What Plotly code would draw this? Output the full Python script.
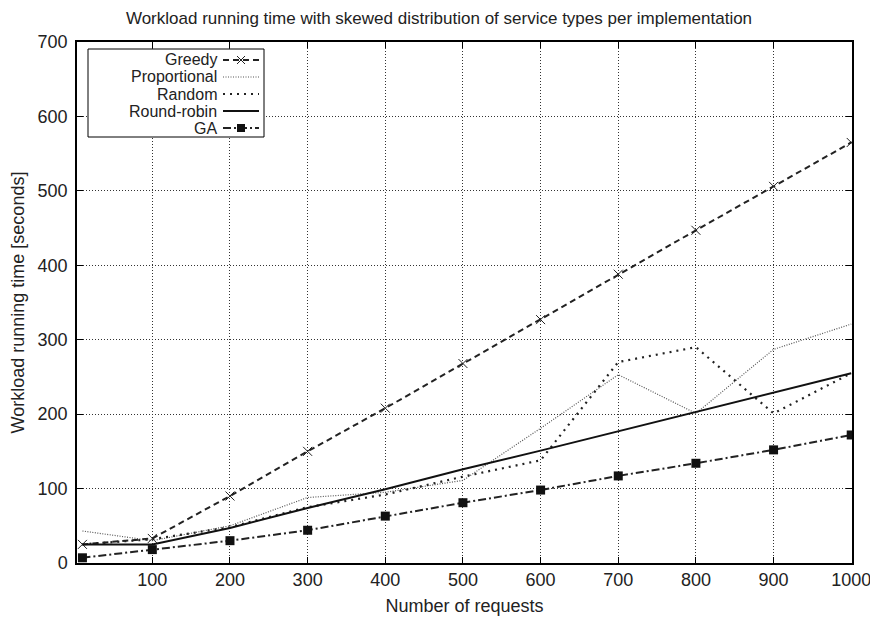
import plotly.graph_objects as go

# number of requests
requests = [10, 100, 200, 300, 400, 500, 600, 700, 800, 900, 1000]

# workload running time [seconds] per implementation
greedy = [25, 33, 90, 150, 208, 268, 327, 388, 447, 506, 565]
proportional = [43, 30, 50, 88, 95, 111, 181, 253, 201, 287, 321]
random_ = [25, 32, 48, 75, 92, 116, 138, 270, 290, 201, 255]
round_robin = [25, 25, 47, 74, 99, 126, 151, 177, 203, 229, 255]
ga = [7, 18, 30, 44, 63, 81, 98, 117, 134, 152, 172]

xticks = [100, 200, 300, 400, 500, 600, 700, 800, 900, 1000]
yticks = [0, 100, 200, 300, 400, 500, 600, 700]

FONT = "Liberation Sans, Arial, Helvetica, sans-serif"

series = [
    ("Greedy", greedy, dict(color="#222", width=2, dash="6px,4px"),
     dict(symbol="x-thin", size=9, line=dict(color="#222", width=1))),
    ("Proportional", proportional, dict(color="#555", width=1.2, dash="1px,1.5px"), None),
    ("Random", random_, dict(color="#222", width=2.2, dash="2px,5px"), None),
    ("Round-robin", round_robin, dict(color="#111", width=2), None),
    ("GA", ga, dict(color="#222", width=2, dash="8px,3px,2px,3px"),
     dict(symbol="square", size=9, color="#111")),
]

fig = go.Figure()
for name, vals, line, marker in series:
    fig.add_trace(go.Scatter(
        x=requests, y=vals, name=name,
        mode="lines+markers" if marker else "lines",
        line=line, marker=marker, showlegend=False))

# the page body has an 8px margin, so the figure is drawn a bit smaller
W, H, OFF = 870, 612, 8
# plot area in screen pixels (for the hand drawn gnuplot style key)
L, R, T, B = 77, 852, 42, 563


def px(x):
    return (x - L) / (R - L)


def py(y):
    return (B - y) / (B - T)


shapes = [dict(type="rect", xref="paper", yref="paper",
               x0=px(88), x1=px(264), y0=py(49), y1=py(137),
               line=dict(color="black", width=1), fillcolor="white", layer="above")]
annotations = []
rows = [60, 77, 94, 111, 128]
for (name, vals, line, marker), ry in zip(series, rows):
    annotations.append(dict(xref="paper", yref="paper", x=px(219), y=py(ry),
                            text=name, showarrow=False, xanchor="right",
                            yanchor="middle", font=dict(size=16, color="#222", family=FONT)))
    shapes.append(dict(type="line", xref="paper", yref="paper",
                       x0=px(223), x1=px(259), y0=py(ry), y1=py(ry),
                       line=line, layer="above"))
    if marker and marker["symbol"] == "square":
        shapes.append(dict(type="rect", xref="paper", yref="paper",
                           x0=px(237), x1=px(245), y0=py(ry - 4), y1=py(ry + 4),
                           fillcolor="#111", line=dict(width=0), layer="above"))
    elif marker:
        for dy in (-4, 4):
            shapes.append(dict(type="line", xref="paper", yref="paper",
                               x0=px(237), x1=px(245), y0=py(ry - dy), y1=py(ry + dy),
                               line=dict(color="#222", width=1), layer="above"))

fig.update_layout(
    width=W, height=H,
    margin=dict(l=L - OFF, r=W - (R - OFF), t=T - OFF, b=H - (B - OFF)),
    paper_bgcolor="white", plot_bgcolor="white",
    font=dict(family=FONT, size=18, color="#222"),
    title=dict(text="Workload running time with skewed distribution of service types per implementation",
               x=(439 - OFF) / W, xanchor="center", y=1 - 10.5 / H, yanchor="middle",
               font=dict(size=17, family=FONT, color="#222")),
    xaxis=dict(range=[3, 1001], tickvals=xticks, ticks="inside", ticklen=6,
               tickcolor="black", showline=True, linecolor="black", linewidth=1.5,
               mirror="allticks", showgrid=True, gridcolor="#333", griddash="1px,2px",
               gridwidth=1, zeroline=False, automargin=False,
               title=dict(text="Number of requests", standoff=10, font=dict(size=18))),
    yaxis=dict(range=[0, 700], tickvals=yticks, ticks="inside", ticklen=6,
               tickcolor="black", showline=True, linecolor="black", linewidth=1.5,
               mirror="allticks", showgrid=True, gridcolor="#333", griddash="1px,2px",
               gridwidth=1, zeroline=False, automargin=False, ticklabelstandoff=4,
               title=dict(text="Workload running time [seconds]", standoff=9, font=dict(size=18))),
    shapes=shapes, annotations=annotations,
)

fig.write_html("out.html")
